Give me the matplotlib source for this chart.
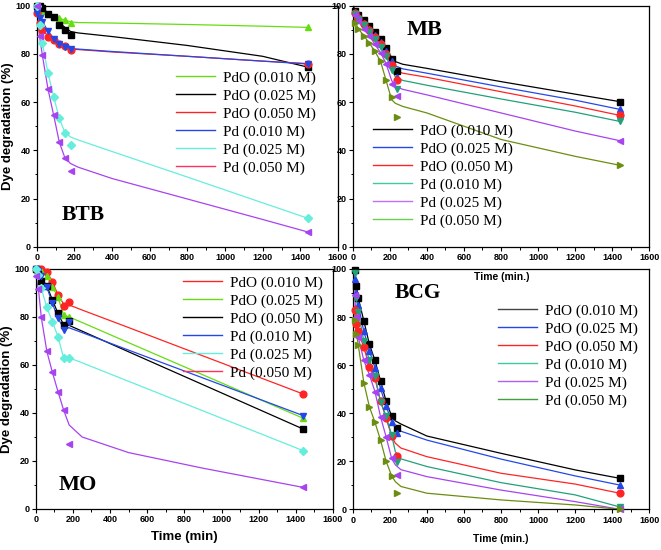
import matplotlib
matplotlib.use("Agg")
import matplotlib.pyplot as plt
from matplotlib.lines import Line2D
from matplotlib.ticker import MultipleLocator

W, H = 661, 550

# ---- BTB (top left) ----
btb_t = [0, 15, 30, 60, 90, 120, 150, 180, 1440]
btb_pdo_010 = [100, 99, 98, 96.5, 95.5, 94.8, 94, 93, 91]
btb_pdo_025 = [100, 100, 99, 96.5, 95.5, 92, 90, 88, 74.5]
btb_pdo_050 = [97, 93, 90, 87.2, 85.8, 84.3, 83.3, 81.6, 76]
btb_pd_010 = [97, 95, 93.4, 89.5, 86, 84, 83, 82, 75.8]
btb_pd_025 = [100, 92, 84.4, 72, 62.2, 53.3, 47.3, 42.3, 11.8]
btb_pd_050 = [100, 87.4, 79.5, 65.4, 54.6, 43.4, 36.8, 31.4, 6.1]
# fitted curves as drawn in the picture
btb_fit_t = [0, 15, 30, 60, 90, 120, 150, 180, 220, 400, 800, 1200, 1440]
btb_fit_pdo_010 = [100, 99, 98, 96.5, 95.5, 94.8, 94, 93.3, 93, 92.8, 92.2, 91.5, 91]
btb_fit_pdo_025 = [100, 100, 99, 97, 95, 93, 91, 89.3, 88.7, 87.2, 83.5, 79, 74.5]
btb_fit_pdo_050 = [97, 93, 90, 87.5, 85.8, 84.3, 83.3, 82, 81.8, 80.8, 79, 77, 76]
btb_fit_pd_010 = [97, 95, 93.4, 89.5, 86.5, 84.3, 83.2, 82.2, 82, 81, 79, 77, 75.8]
btb_fit_pd_025 = [100, 92, 84.4, 72, 62.2, 53.3, 47.3, 45.5, 44.3, 39.5, 28.9, 18.2, 11.8]
btb_fit_pd_050 = [100, 87.4, 79.5, 65.4, 54.6, 43.4, 36.8, 34.5, 33, 28.3, 19.8, 11.3, 6.1]

# ---- MB (top right) ----
mb_t = [15, 30, 60, 90, 120, 150, 180, 210, 240, 1440]
mb_pdo_010 = [98, 96, 94, 91.5, 89, 86, 82.5, 78, 73, 60.2]
mb_pdo_025 = [97.5, 95.5, 93, 90.5, 88, 85, 81, 77, 70.5, 57]
mb_pdo_050 = [97, 95, 92.5, 90, 87, 84, 80, 75.5, 69, 54.5]
mb_pd_010 = [96.5, 94.5, 92, 89, 86, 83, 79, 73.5, 65.5, 52]
mb_pd_025 = [96, 93.5, 90.5, 87.5, 84, 80.5, 76, 67.5, 62.5, 44]
mb_pd_050 = [93, 90.5, 87.5, 84.5, 81, 77, 69, 62, 53.7, 33.8]
mb_fit_t = [0, 15, 30, 60, 90, 120, 150, 180, 210, 230, 270, 400, 800, 1200, 1440]
mb_fit_pdo_010 = [100, 98, 96, 94, 91.5, 89, 86, 82.5, 78.5, 76.8, 75.7, 74, 68.5, 63.3, 60.2]
mb_fit_pdo_025 = [100, 97.5, 95.5, 93, 90.5, 88, 85, 81, 77, 75, 73.8, 72, 66.3, 60.8, 57]
mb_fit_pdo_050 = [99, 97, 95, 92.5, 90, 87, 84, 80, 75.5, 73, 72, 70.3, 64.3, 58.4, 54.5]
mb_fit_pd_010 = [99, 96.5, 94.5, 92, 89, 86, 83, 79, 73.5, 70.5, 69, 67, 61.3, 55.8, 52]
mb_fit_pd_025 = [98, 96, 93.5, 90.5, 87.5, 84, 80.5, 76, 69, 66.5, 65.3, 63, 55.5, 48, 44]
mb_fit_pd_050 = [96, 93, 90.5, 87.5, 84.5, 81, 77, 69, 61, 59.5, 58.2, 55.5, 44.5, 37.5, 33.8]

# ---- MO (bottom left) ----
mo_t = [0, 15, 30, 60, 90, 120, 150, 180, 1440]
mo_pdo_010 = [100, 100, 100, 98.9, 94.7, 89.2, 84.7, 86.4, 47.9]
mo_pdo_025 = [100, 100, 99, 97, 92.6, 88.2, 81, 80.1, 37.8]
mo_pdo_050 = [100, 98, 95.1, 93, 87.1, 81.5, 76.8, 78.5, 33.3]
mo_pd_010 = [100, 99, 97, 92.4, 85.7, 79.4, 74.6, 77.8, 38.9]
mo_pd_025 = [100, 97.5, 92, 84, 78, 71.8, 63, 63, 24.3]
mo_pd_050 = [97, 91.5, 79.9, 65.7, 56.9, 48.9, 41.3, 26.9, 9.1]
mo_fit_t = [0, 15, 30, 60, 90, 120, 150, 180, 250, 500, 900, 1440]
mo_fit_pdo_010 = [100, 100, 100, 98.9, 94.7, 89.2, 85.5, 85, 82.9, 75.6, 63.8, 47.9]
mo_fit_pdo_025 = [100, 100, 99, 97, 92.6, 88.2, 81, 80, 77.7, 69.3, 55.9, 37.8]
mo_fit_pdo_050 = [100, 98, 95.1, 93, 87.1, 81.5, 76.8, 76.5, 74.1, 65.5, 51.8, 33.3]
mo_fit_pd_010 = [100, 99, 97, 92.4, 85.7, 79.4, 75.5, 75.5, 73.5, 66.2, 54.6, 38.9]
mo_fit_pd_025 = [100, 97.5, 92, 84, 78, 71.8, 63, 63, 60.9, 53.2, 40.9, 24.3]
mo_fit_pd_050 = [97, 91.5, 79.9, 65.7, 56.9, 48.9, 41.3, 35, 30, 23.5, 17, 9]

# ---- BCG (bottom right) ----
bcg_t = [10, 20, 30, 60, 90, 120, 150, 180, 210, 240, 1440]
bcg_pdo_010 = [99.5, 93, 88, 78.4, 68.7, 62, 53.5, 45, 38.8, 34, 12.9]
bcg_pdo_025 = [96, 90, 85, 74, 66, 59, 50.3, 43, 36.5, 31.6, 10.1]
bcg_pdo_050 = [83, 77, 74, 67.4, 59.4, 54.5, 45, 38, 30.5, 22.2, 6.7]
bcg_pd_010 = [98.5, 88, 82, 70, 62, 55.5, 44.8, 38.8, 30.9, 19.8, 1]
bcg_pd_025 = [89, 80, 71.6, 62, 56, 49, 38.6, 30.2, 21.2, 14.3, 0]
bcg_pd_050 = [78.8, 73, 68.4, 52.7, 42.7, 36.2, 28.8, 20.1, 13.9, 6.7, 0]
bcg_fit_t = [0, 10, 20, 30, 60, 90, 120, 150, 180, 210, 230, 260, 400, 800, 1200, 1440]
bcg_fit_pdo_010 = [100, 99.5, 93, 88, 78.4, 68.7, 62, 53.5, 45, 38.8, 36.8, 35.5, 30.5, 23.3, 16.4, 12.9]
bcg_fit_pdo_025 = [98, 96, 90, 85, 74, 66, 59, 50.3, 43, 36.5, 34, 32.5, 28.8, 20.9, 13.9, 10.1]
bcg_fit_pdo_050 = [88, 83, 77, 74, 67.4, 59.4, 54.5, 45, 38, 30.5, 27.5, 25.5, 21.9, 15, 10.5, 6.7]
bcg_fit_pd_010 = [100, 98.5, 88, 82, 70, 62, 55.5, 44.8, 38.8, 30.9, 24, 21, 17.8, 11.1, 6, 1]
bcg_fit_pd_025 = [95, 89, 80, 71.6, 62, 56, 49, 38.6, 30.2, 21.2, 18.5, 16.5, 13.6, 8, 3.2, 0]
bcg_fit_pd_050 = [85, 78.8, 73, 68.4, 52.7, 42.7, 36.2, 28.8, 20.1, 13.9, 11.5, 9.5, 6.7, 3.9, 1.8, 0]

labels = ["PdO (0.010 M)", "PdO (0.025 M)", "PdO (0.050 M)",
          "Pd (0.010 M)", "Pd (0.025 M)", "Pd (0.050 M)"]

# colours
black = "#000000"
blue = "#2448e8"
red = "#ff2424"
green = "#66dd11"
cyan = "#66eedd"
purple = "#a843f0"
teal = "#22a07a"
olive = "#6b8e10"

plt.rcParams['font.family'] = 'Liberation Sans'
plt.rcParams['font.weight'] = 'bold'
plt.rcParams['axes.labelweight'] = 'bold'
plt.rcParams['axes.linewidth'] = 0.9


def fx(x):
    return x / W


def fy(y):
    return 1 - y / H


def make_axes(fig, left, top, right, bottom):
    ax = fig.add_axes([fx(left), fy(bottom), (right - left) / W, (bottom - top) / H])
    ax.set_facecolor('none')
    ax.set_xlim(0, 1600)
    ax.set_ylim(0, 100)
    ax.xaxis.set_major_locator(MultipleLocator(200))
    ax.xaxis.set_minor_locator(MultipleLocator(100))
    ax.yaxis.set_major_locator(MultipleLocator(20))
    ax.yaxis.set_minor_locator(MultipleLocator(10))
    ax.tick_params(which='major', direction='out', length=3, width=0.8, labelsize=6.5, pad=1.5)
    ax.tick_params(which='minor', direction='out', length=1.8, width=0.7)
    return ax


def draw_series(ax, t, vals, fit_t, fit_vals, color, marker):
    ax.plot(fit_t, fit_vals, '-', color=color, lw=0.9, zorder=2)
    ms = 4.4 if marker == 'D' else 4.9
    ax.plot(t, vals, linestyle='none', marker=marker, color=color, ms=ms,
            mec=color, zorder=3, clip_on=False)


def add_legend(ax, colors, x, y):
    handles = [Line2D([], [], color=c, lw=1.0) for c in colors]
    ax.legend(handles, labels, loc='upper left', bbox_to_anchor=(fx(x), fy(y)),
              bbox_transform=fig.transFigure, frameon=False, borderpad=0,
              borderaxespad=0, handlelength=2.55, handletextpad=0.5,
              labelspacing=0.27,
              prop={'family': 'Liberation Serif', 'weight': 'normal', 'size': 11})


fig = plt.figure(figsize=(W / 100, H / 100), dpi=100)

# top right (MB), drawn first so top left overlaps it
ax_mb = make_axes(fig, 352.7, 5.7, 649.3, 246.7)
draw_series(ax_mb, mb_t, mb_pdo_010, mb_fit_t, mb_fit_pdo_010, black, 's')
draw_series(ax_mb, mb_t, mb_pdo_025, mb_fit_t, mb_fit_pdo_025, blue, '^')
draw_series(ax_mb, mb_t, mb_pdo_050, mb_fit_t, mb_fit_pdo_050, red, 'o')
draw_series(ax_mb, mb_t, mb_pd_010, mb_fit_t, mb_fit_pd_010, teal, 'v')
draw_series(ax_mb, mb_t, mb_pd_025, mb_fit_t, mb_fit_pd_025, purple, '<')
draw_series(ax_mb, mb_t, mb_pd_050, mb_fit_t, mb_fit_pd_050, olive, '>')
add_legend(ax_mb, [black, blue, red, "#40c8a0", "#c070f8", "#66d050"], 373, 124)
fig.text(fx(425), fy(30), "MB", family='Liberation Serif', weight='bold', size=16,
         ha='center', va='center')

# top left (BTB)
ax_btb = make_axes(fig, 36.7, 5.7, 338, 246.7)
draw_series(ax_btb, btb_t, btb_pdo_010, btb_fit_t, btb_fit_pdo_010, green, '^')
draw_series(ax_btb, btb_t, btb_pdo_025, btb_fit_t, btb_fit_pdo_025, black, 's')
draw_series(ax_btb, btb_t, btb_pdo_050, btb_fit_t, btb_fit_pdo_050, red, 'o')
draw_series(ax_btb, btb_t, btb_pd_010, btb_fit_t, btb_fit_pd_010, blue, 'v')
draw_series(ax_btb, btb_t, btb_pd_025, btb_fit_t, btb_fit_pd_025, cyan, 'D')
draw_series(ax_btb, btb_t, btb_pd_050, btb_fit_t, btb_fit_pd_050, purple, '<')
add_legend(ax_btb, [green, black, red, blue, cyan, "#ff3060"], 176, 71)
ax_btb.set_ylabel("Dye degradation (%)", fontsize=9.5, labelpad=1)
fig.text(fx(83), fy(215), "BTB", family='Liberation Serif', weight='bold', size=15.5,
         ha='center', va='center')

# bottom right (BCG)
ax_bcg = make_axes(fig, 352.7, 269, 649.3, 509.3)
draw_series(ax_bcg, bcg_t, bcg_pdo_010, bcg_fit_t, bcg_fit_pdo_010, black, 's')
draw_series(ax_bcg, bcg_t, bcg_pdo_025, bcg_fit_t, bcg_fit_pdo_025, blue, '^')
draw_series(ax_bcg, bcg_t, bcg_pdo_050, bcg_fit_t, bcg_fit_pdo_050, red, 'o')
draw_series(ax_bcg, bcg_t, bcg_pd_010, bcg_fit_t, bcg_fit_pd_010, teal, 'v')
draw_series(ax_bcg, bcg_t, bcg_pd_025, bcg_fit_t, bcg_fit_pd_025, purple, '<')
draw_series(ax_bcg, bcg_t, bcg_pd_050, bcg_fit_t, bcg_fit_pd_050, olive, '>')
add_legend(ax_bcg, ["#444444", blue, red, "#40c8a0", "#b060f0", "#40a040"], 498, 304)
ax_bcg.set_xlabel("Time (min.)", fontsize=7.5, labelpad=7)
fig.text(fx(418), fy(293), "BCG", family='Liberation Serif', weight='bold', size=15.5,
         ha='center', va='center')

# bottom left (MO)
ax_mo = make_axes(fig, 35.7, 269, 333, 509)
draw_series(ax_mo, mo_t, mo_pdo_010, mo_fit_t, mo_fit_pdo_010, red, 'o')
draw_series(ax_mo, mo_t, mo_pdo_025, mo_fit_t, mo_fit_pdo_025, green, '^')
draw_series(ax_mo, mo_t, mo_pdo_050, mo_fit_t, mo_fit_pdo_050, black, 's')
draw_series(ax_mo, mo_t, mo_pd_010, mo_fit_t, mo_fit_pd_010, blue, 'v')
draw_series(ax_mo, mo_t, mo_pd_025, mo_fit_t, mo_fit_pd_025, cyan, 'D')
draw_series(ax_mo, mo_t, mo_pd_050, mo_fit_t, mo_fit_pd_050, purple, '<')
add_legend(ax_mo, [red, green, black, blue, cyan, "#ff3060"], 183, 276)
ax_mo.set_ylabel("Dye degradation (%)", fontsize=9.5, labelpad=1)
ax_mo.set_xlabel("Time (min)", fontsize=9.5, labelpad=5)
fig.text(fx(78), fy(485), "MO", family='Liberation Serif', weight='bold', size=16,
         ha='center', va='center')

# x label of the MB panel sits over the BCG panel
fig.text(fx(501.5), fy(277), "Time (min.)", fontsize=7.5, weight='bold',
         ha='center', va='center')

fig.savefig("out.png", dpi=100)
